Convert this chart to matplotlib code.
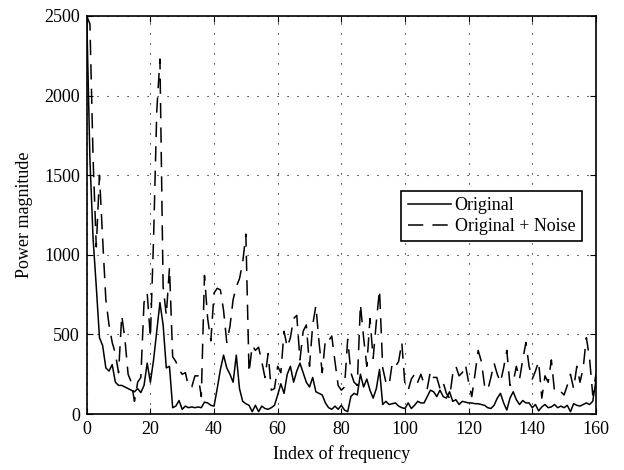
import numpy as np
import matplotlib
matplotlib.use("Agg")
import matplotlib.pyplot as plt

plt.rcParams['font.family'] = ['Liberation Serif', 'DejaVu Serif']
plt.rcParams['mathtext.fontset'] = 'stix'

# power spectrum of the original signal (index 0..160)
original = [
    2500, 1600, 1100, 800, 480, 430, 290, 270, 310, 200,
    180, 180, 170, 160, 150, 140, 160, 135, 180, 320,
    200, 340, 520, 700, 560, 290, 300, 40, 50, 85,
    30, 50, 40, 45, 40, 45, 40, 75, 70, 55,
    50, 160, 280, 370, 290, 250, 200, 370, 160, 80,
    65, 55, 15, 55, 15, 50, 35, 30, 40, 55,
    120, 190, 130, 250, 300, 200, 270, 320, 260, 200,
    170, 230, 140, 130, 120, 70, 40, 30, 50, 30,
    55, 25, 15, 110, 130, 120, 250, 170, 220, 150,
    100, 160, 280, 60, 80, 60, 65, 70, 50, 40,
    35, 70, 35, 55, 80, 70, 70, 110, 150, 140,
    110, 150, 110, 100, 140, 80, 90, 60, 80, 75,
    70, 70, 65, 65, 60, 55, 40, 35, 55, 100,
    130, 70, 25, 100, 140, 90, 60, 85, 70, 70,
    40, 60, 20, 45, 60, 40, 45, 60, 40, 50,
    40, 55, 15, 65, 55, 50, 60, 70, 60, 80,
    210,
]

# power spectrum of the noisy signal
noisy = [
    2500, 2450, 1600, 1050, 1500, 1100, 720, 560, 450, 380,
    260, 620, 470, 250, 200, 80, 200, 230, 700, 760,
    480, 1100, 1900, 2230, 800, 620, 920, 360, 330, 280,
    250, 260, 170, 170, 240, 240, 110, 870, 600, 460,
    760, 790, 780, 650, 450, 550, 720, 800, 850, 950,
    1130, 260, 430, 400, 420, 330, 230, 380, 150, 160,
    300, 260, 520, 420, 480, 600, 620, 340, 520, 560,
    300, 560, 680, 450, 260, 470, 460, 490, 330, 180,
    150, 170, 470, 260, 200, 180, 690, 480, 300, 600,
    350, 580, 780, 290, 200, 180, 320, 300, 330, 450,
    180, 150, 220, 250, 200, 250, 190, 160, 270, 230,
    230, 160, 200, 130, 100, 250, 300, 240, 260, 310,
    200, 110, 250, 400, 330, 180, 150, 230, 320, 250,
    200, 290, 400, 180, 200, 300, 220, 340, 450, 300,
    220, 270, 330, 100, 240, 200, 340, 140, 145, 140,
    120, 180, 250, 160, 300, 200, 290, 480, 350, 120,
    250,
]

idx = np.arange(len(original))

fig = plt.figure(figsize=(6.24, 4.70), dpi=100)
ax = fig.add_axes([0.139, 0.119, 0.816, 0.847])

ax.plot(idx, original, color='black', lw=1.1, label='Original')
ax.plot(idx, noisy, color='black', lw=1.1, dashes=(10, 6), label='Original + Noise')

ax.set_xlim(0, 160)
ax.set_ylim(0, 2500)
ax.set_xticks(range(0, 161, 20))
ax.set_yticks(range(0, 2501, 500))
ax.grid(True, color='black', linestyle=(0, (1, 8)), linewidth=0.8)
ax.tick_params(direction='in', top=True, right=True, labelsize=13, length=4,
               color='black', pad=5)
for sp in ax.spines.values():
    sp.set_linewidth(1.2)

ax.set_xlabel('Index of frequency', fontsize=13, labelpad=5)
ax.set_ylabel('Power magnitude', fontsize=13, labelpad=8)

leg = ax.legend(loc='upper right', bbox_to_anchor=(0.972, 0.56), fontsize=13,
                fancybox=False, framealpha=1, edgecolor='black',
                handlelength=2.4, borderpad=0.35, labelspacing=0.2,
                handletextpad=0.2, borderaxespad=0.0)
leg.get_frame().set_linewidth(1.2)

fig.savefig('out.png', dpi=100)
